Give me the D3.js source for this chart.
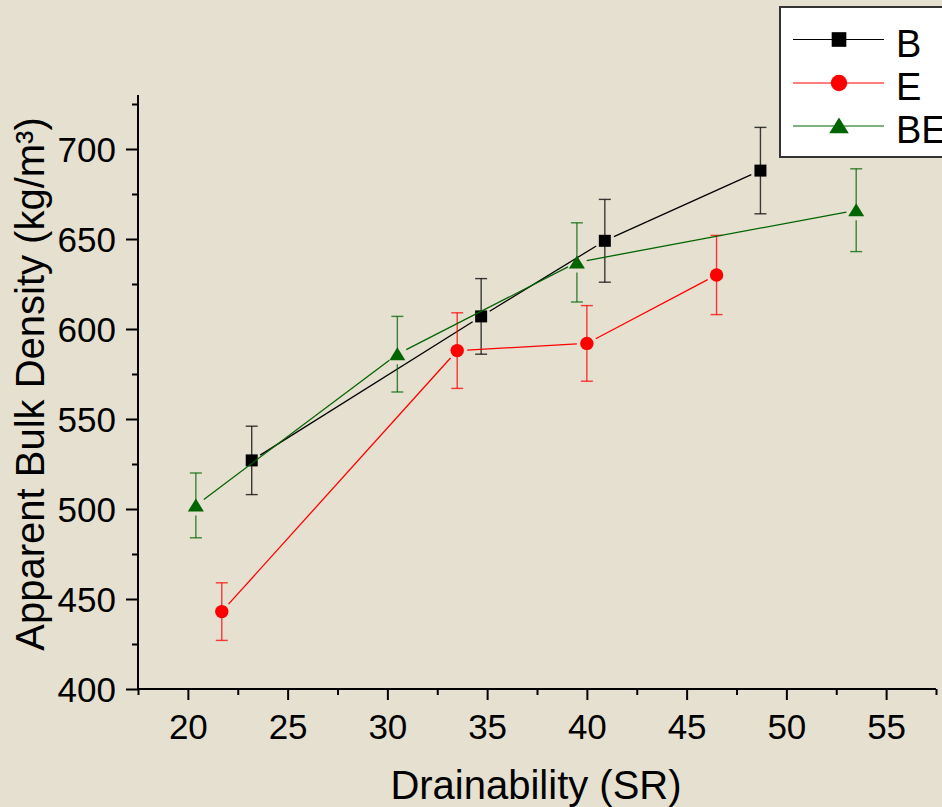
<!DOCTYPE html>
<html>
<head>
<meta charset="utf-8">
<script src="https://cdn.jsdelivr.net/npm/d3@7"></script>
<style>
html,body{margin:0;padding:0;background:#e6e0d0;}
svg{display:block;font-family:"Liberation Sans",Arial,sans-serif;}
</style>
</head>
<body>
<svg id="chart" width="942" height="807"></svg>
<script>
// ---- data ----
const seriesNames = ["B", "E", "BE"];
const bX = [23.2, 34.7, 40.9, 48.7];
const bY = [527, 607, 649, 688];
const bErr = [19, 21, 23, 24];
const eX = [21.7, 33.5, 40.0, 46.5];
const eY = [443, 588, 592, 630];
const eErr = [16, 21, 21, 22];
const beX = [20.4, 30.5, 39.5, 53.5];
const beY = [502, 586, 637, 666];
const beErr = [18, 21, 22, 23];
const xMajorTicks = [20, 25, 30, 35, 40, 45, 50, 55];
const xMinorTicks = [17.5, 22.5, 27.5, 32.5, 37.5, 42.5, 47.5, 52.5, 57.5];
const yMajorTicks = [400, 450, 500, 550, 600, 650, 700];
const yMinorTicks = [425, 475, 525, 575, 625, 675, 725];
const xTitle = "Drainability (SR)";
const yTitle = "Apparent Bulk Density (kg/m³)";

const series = [
  {name: "B", xs: bX, ys: bY, err: bErr, color: "#000000", marker: "square"},
  {name: "E", xs: eX, ys: eY, err: eErr, color: "#ff0000", marker: "circle"},
  {name: "BE", xs: beX, ys: beY, err: beErr, color: "#006400", marker: "triangle"}
];

const svg = d3.select("#chart");
const x = d3.scaleLinear().domain([17.5, 57.5]).range([138, 936]);
const y = d3.scaleLinear().domain([400, 730]).range([689, 95]);

// axes
const axisG = svg.append("g");
const xAxisMaj = d3.axisBottom(x).tickValues(xMajorTicks).tickSize(11).tickFormat(d3.format("d"));
const xAxisMin = d3.axisBottom(x).tickValues(xMinorTicks).tickSize(6).tickFormat("");
const yAxisMaj = d3.axisLeft(y).tickValues(yMajorTicks).tickSize(12).tickFormat(d3.format("d"));
const yAxisMin = d3.axisLeft(y).tickValues(yMinorTicks).tickSize(6).tickFormat("");

function styleAxis(g){
  g.select(".domain").attr("stroke", "#000").attr("stroke-width", 2);
  g.selectAll(".tick line").attr("stroke", "#000").attr("stroke-width", 2);
  g.selectAll(".tick text").attr("fill", "#000").attr("font-size", 35).attr("font-family", "Liberation Sans, Arial, sans-serif");
}
const gxMin = axisG.append("g").attr("transform", "translate(0,689)").call(xAxisMin); styleAxis(gxMin);
gxMin.select(".domain").remove();
const gyMin = axisG.append("g").attr("transform", "translate(138,0)").call(yAxisMin); styleAxis(gyMin);
gyMin.select(".domain").remove();
const gx = axisG.append("g").attr("transform", "translate(0,689)").call(xAxisMaj); styleAxis(gx);
gx.select(".domain").attr("d", `M${x.range()[0]},0H${x.range()[1]}`);
gx.selectAll(".tick text").attr("y", 0).attr("dy", 0).attr("transform", "translate(0,50)");
const gy = axisG.append("g").attr("transform", "translate(138,0)").call(yAxisMaj); styleAxis(gy);
gy.select(".domain").attr("d", `M0,${y.range()[1]}V${y.range()[0]}`);
gy.selectAll(".tick text").attr("x", -22).attr("dy", "0.36em");

// titles
svg.append("text").attr("x", 536).attr("y", 799).attr("text-anchor", "middle")
  .attr("font-size", 40).attr("fill", "#000").text(xTitle);
svg.append("text").attr("transform", "translate(44,384) rotate(-90)").attr("text-anchor", "middle")
  .attr("font-size", 40).attr("fill", "#000").text(yTitle);

// marker drawer
function drawMarker(g, type, cx, cy, color, k){
  k = k || 1;
  if (type === "square") {
    g.append("rect").attr("x", cx - 6 * k).attr("y", cy - 6 * k).attr("width", 12 * k).attr("height", 12 * k).attr("fill", color);
  } else if (type === "circle") {
    g.append("circle").attr("cx", cx).attr("cy", cy).attr("r", 6.7 * k).attr("fill", color);
  } else {
    g.append("path").attr("d", `M${cx},${cy - 7 * k}L${cx + 8 * k},${cy + 6 * k}L${cx - 8 * k},${cy + 6 * k}Z`).attr("fill", color);
  }
}

const plot = svg.append("g");
const GAP = 10;
series.forEach(s => {
  const g = plot.append("g");
  const pts = s.xs.map((v, i) => [x(v), y(s.ys[i])]);
  // connecting segments, shortened near the markers
  for (let i = 0; i < pts.length - 1; i++) {
    const [x1, y1] = pts[i], [x2, y2] = pts[i + 1];
    const dx = x2 - x1, dy = y2 - y1, L = Math.hypot(dx, dy);
    const ux = dx / L, uy = dy / L;
    g.append("line")
      .attr("x1", x1 + ux * GAP).attr("y1", y1 + uy * GAP)
      .attr("x2", x2 - ux * GAP).attr("y2", y2 - uy * GAP)
      .attr("stroke", s.color).attr("stroke-width", 1.3);
  }
  // error bars
  s.xs.forEach((v, i) => {
    const cx = x(v), cy = y(s.ys[i]);
    const top = y(s.ys[i] + s.err[i]), bot = y(s.ys[i] - s.err[i]);
    const lowStart = s.marker === "triangle" ? cy + 10 : cy;
    const eg = g.append("g").attr("stroke", s.color).attr("stroke-width", 1.4).attr("stroke-opacity", 0.75);
    eg.append("line").attr("x1", cx).attr("x2", cx).attr("y1", top).attr("y2", cy);
    eg.append("line").attr("x1", cx).attr("x2", cx).attr("y1", lowStart).attr("y2", bot);
    eg.append("line").attr("x1", cx - 6).attr("x2", cx + 6).attr("y1", top).attr("y2", top);
    eg.append("line").attr("x1", cx - 6).attr("x2", cx + 6).attr("y1", bot).attr("y2", bot);
  });
  pts.forEach(([cx, cy]) => drawMarker(g, s.marker, cx, cy, s.color));
});

// legend
const lg = svg.append("g");
lg.append("rect").attr("x", 780).attr("y", 7).attr("width", 200).attr("height", 150)
  .attr("fill", "#fff").attr("stroke", "#333").attr("stroke-width", 2);
const legendY = [39.5, 83, 126];
series.forEach((s, i) => {
  const ly = legendY[i];
  lg.append("line").attr("x1", 793).attr("x2", 884).attr("y1", ly).attr("y2", ly)
    .attr("stroke", s.color).attr("stroke-width", 1.2);
  drawMarker(lg, s.marker, 839, ly, s.color, 1.22);
  lg.append("text").attr("x", 896).attr("y", ly + 17).attr("font-size", 38).attr("fill", "#000").text(seriesNames[i]);
});
</script>
</body>
</html>
